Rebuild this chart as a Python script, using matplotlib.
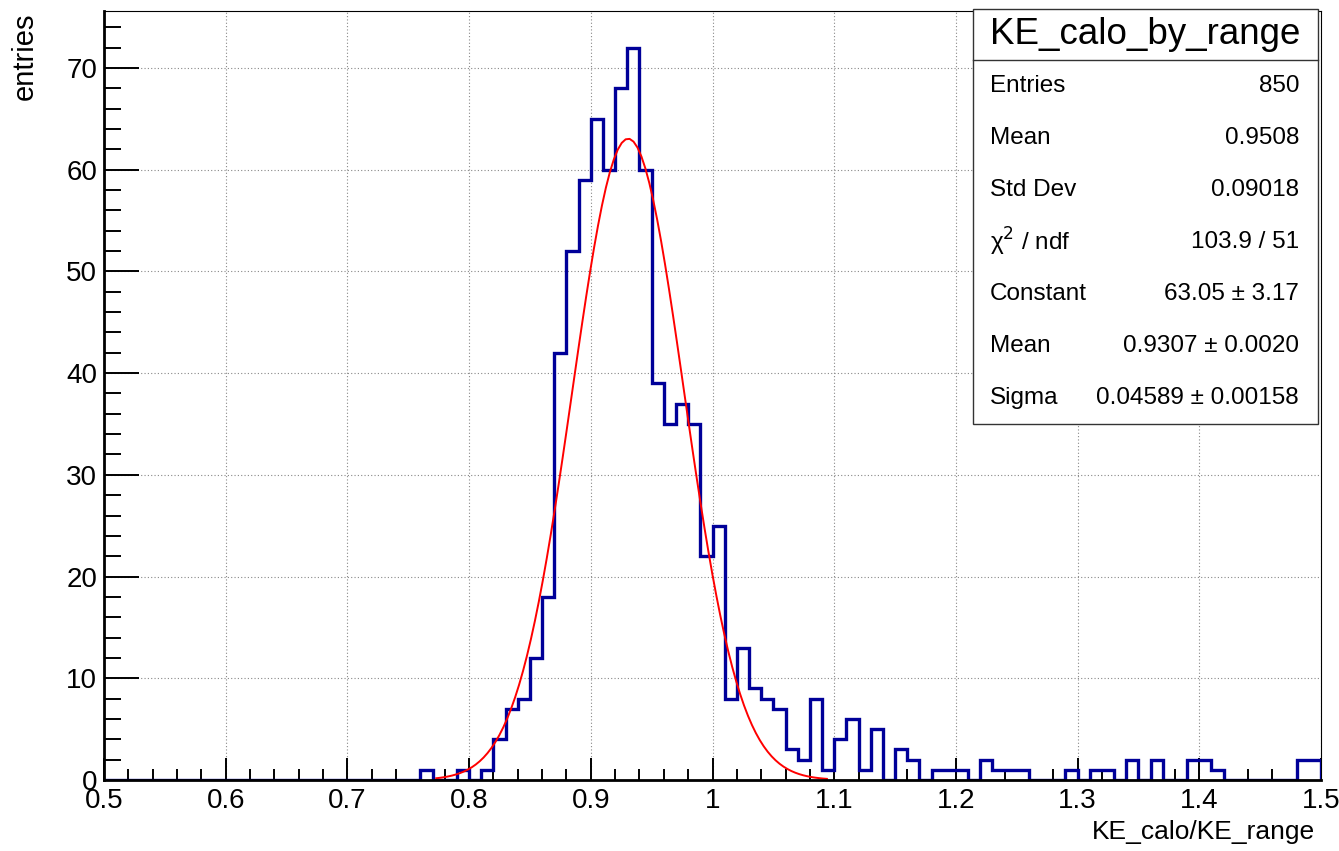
import numpy as np
import matplotlib
matplotlib.use("Agg")
import matplotlib.pyplot as plt
from matplotlib.patches import Rectangle
from matplotlib.ticker import MultipleLocator

plt.rcParams["font.family"] = ["Liberation Sans", "DejaVu Sans"]

# KE_calo/KE_range histogram, 100 bins from 0.5 to 1.5
bin_lo = 0.5
bin_hi = 1.5
counts = [
    0, 0, 0, 0, 0, 0, 0, 0, 0, 0,
    0, 0, 0, 0, 0, 0, 0, 0, 0, 0,
    0, 0, 0, 0, 0, 0, 1, 0, 0, 1,
    0, 1, 4, 7, 8, 12, 18, 42, 52, 59,
    65, 60, 68, 72, 60, 39, 35, 37, 35, 22,
    25, 8, 13, 9, 8, 7, 3, 2, 8, 1,
    4, 6, 1, 5, 0, 3, 2, 0, 1, 1,
    1, 0, 2, 1, 1, 1, 0, 0, 0, 1,
    0, 1, 1, 0, 2, 0, 2, 0, 0, 2,
    2, 1, 0, 0, 0, 0, 0, 0, 2, 2,
]

# gaussian fit result
fit_const = 63.05
fit_mean = 0.9307
fit_sigma = 0.04589
fit_range = (0.773, 1.094)

stat_labels = ["Entries", "Mean", "Std Dev", "χ$^{2}$ / ndf", "Constant", "Mean", "Sigma"]
stat_values = ["850", "0.9508", "0.09018", "103.9 / 51",
               "63.05 ± 3.17", "0.9307 ± 0.0020", "0.04589 ± 0.00158"]

W, H = 1339, 851
fig = plt.figure(figsize=(W / 100, H / 100), dpi=100)
ax = fig.add_axes([104 / W, 1 - 780 / H, 1217 / W, 769 / H])

edges = np.linspace(bin_lo, bin_hi, len(counts) + 1)
ax.stairs(counts, edges, color="#000099", lw=2.4, zorder=3)

xf = np.linspace(fit_range[0], fit_range[1], 100)
yf = fit_const * np.exp(-0.5 * ((xf - fit_mean) / fit_sigma) ** 2)
ax.plot(xf, yf, color="red", lw=1.4, zorder=4)

ax.set_xlim(bin_lo, bin_hi)
ax.set_ylim(0, 1.05 * max(counts))

ax.xaxis.set_major_locator(MultipleLocator(0.1))
ax.xaxis.set_minor_locator(MultipleLocator(0.02))
ax.yaxis.set_major_locator(MultipleLocator(10))
ax.yaxis.set_minor_locator(MultipleLocator(2))
ax.xaxis.set_major_formatter(matplotlib.ticker.FuncFormatter(lambda v, p: f"{v:g}"))

ax.grid(True, which="major", color="#888888", lw=0.8, linestyle=(0, (1, 2)))
ax.set_axisbelow(True)

ax.tick_params(axis="x", which="major", direction="in", length=16, width=1.4,
               labelsize=20, pad=6)
ax.tick_params(axis="x", which="minor", direction="in", length=8, width=1.4)
ax.tick_params(axis="y", which="major", direction="in", length=25, width=1.4,
               labelsize=20, pad=5)
ax.tick_params(axis="y", which="minor", direction="in", length=12.5, width=1.4)
ax.tick_params(top=False, right=False, which="both")

for side in ("left", "bottom"):
    ax.spines[side].set_linewidth(2.0)
    ax.spines[side].set_zorder(5)
for side in ("top", "right"):
    ax.spines[side].set_linewidth(0.8)

fig.text(1315 / W, 1 - 832 / H, "KE_calo/KE_range", ha="right", va="center", fontsize=19)
fig.text(25 / W, 1 - 12 / H, "entries", ha="center", va="top", rotation=90, fontsize=21)

# statistics box
def fx(px):
    return px / W

def fy(py):
    return 1 - py / H

box_l, box_r, box_t, box_b, title_b = 973, 1318, 9, 424, 60
fig.patches.append(Rectangle((fx(box_l), fy(box_b)), fx(box_r) - fx(box_l), fy(box_t) - fy(box_b),
                             transform=fig.transFigure, facecolor="white",
                             edgecolor="#333333", lw=1.0, zorder=10))
fig.add_artist(plt.Line2D([fx(box_l), fx(box_r)], [fy(title_b), fy(title_b)],
                          transform=fig.transFigure, color="#333333", lw=1.0, zorder=11))
fig.text(fx((box_l + box_r) / 2), fy(title_b / 2 + 5), "KE_calo_by_range",
         ha="center", va="center", fontsize=26.5, zorder=12)

row_h = (box_b - title_b) / len(stat_labels)
for i, (lab, val) in enumerate(zip(stat_labels, stat_values)):
    yc = title_b + row_h * (i + 0.5)
    fig.text(fx(990), fy(yc), lab, ha="left", va="center", fontsize=17.5, zorder=12)
    fig.text(fx(1299), fy(yc), val, ha="right", va="center", fontsize=17.5, zorder=12)

fig.savefig("out.png", dpi=100)
plt.close(fig)
